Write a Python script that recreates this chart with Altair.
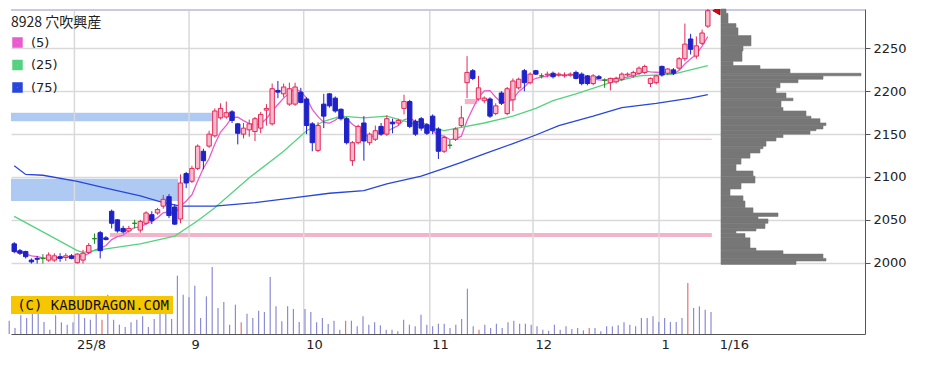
import altair as alt
import pandas as pd

# ---------------- data ----------------
# trading-day index: 0 = 2025-08-01, 110 = 2026-01-16
day_index = list(range(-11, 111))

opens = [2022, 2014, 2013, 2003, 2005, 2005, 2003, 2003, 2007, 2006,
         2008, 2000, 2003, 2012, 2028, 2035, 2029, 2060, 2050, 2040,
         2037, 2046, 2038, 2046, 2056, 2058, 2066, 2077, 2065, 2051,
         2104, 2095, 2110, 2130, 2136, 2148, 2169, 2170, 2176, 2162,
         2150, 2155, 2153, 2157, 2178, 2162, 2201, 2197, 2185, 2185,
         2199, 2191, 2162, 2131, 2185, 2197, 2192, 2179, 2168, 2119,
         2140, 2163, 2140, 2144, 2159, 2150, 2164, 2163, 2180, 2188,
         2165, 2168, 2161, 2171, 2156, 2130, 2137, 2144, 2160, 2210,
         2224, 2191, 2189, 2191, 2174, 2198, 2174, 2190, 2204, 2224,
         2210, 2224, 2218, 2219, 2221, 2219, 2218, 2219, 2222, 2220,
         2218, 2209, 2217, 2213, 2210, 2211, 2214, 2219, 2218, 2221,
         2222, 2209, 2210, 2229, 2221, 2225, 2227, 2238, 2261, 2241,
         2256, 2276]
highs = [2024, 2016, 2014, 2005, 2008, 2010, 2012, 2011, 2011, 2011,
         2010, 2011, 2015, 2023, 2034, 2037, 2031, 2062, 2051, 2043,
         2043, 2050, 2050, 2060, 2060, 2064, 2079, 2080, 2068, 2103,
         2106, 2113, 2138, 2133, 2154, 2180, 2186, 2188, 2178, 2163,
         2163, 2167, 2170, 2176, 2185, 2209, 2212, 2209, 2210, 2210,
         2204, 2193, 2164, 2164, 2197, 2198, 2194, 2180, 2170, 2142,
         2161, 2171, 2152, 2160, 2163, 2172, 2168, 2168, 2196, 2190,
         2167, 2170, 2163, 2173, 2158, 2148, 2143, 2158, 2183, 2241,
         2226, 2218, 2194, 2193, 2186, 2200, 2205, 2215, 2216, 2226,
         2222, 2225, 2221, 2223, 2223, 2222, 2222, 2222, 2224, 2222,
         2219, 2220, 2219, 2215, 2216, 2217, 2222, 2222, 2224, 2229,
         2231, 2216, 2219, 2230, 2227, 2227, 2240, 2279, 2267, 2264,
         2272, 2296]
lows = [2011, 2009, 2005, 1999, 1999, 1999, 2001, 2001, 2001, 2002,
        2004, 1999, 1999, 2010, 2022, 2005, 2026, 2040, 2035, 2034,
        2035, 2040, 2035, 2044, 2045, 2056, 2063, 2052, 2044, 2046,
        2087, 2093, 2108, 2109, 2134, 2146, 2167, 2168, 2163, 2138,
        2145, 2147, 2142, 2151, 2160, 2160, 2192, 2193, 2183, 2183,
        2186, 2150, 2130, 2129, 2157, 2181, 2175, 2166, 2138, 2113,
        2138, 2119, 2137, 2142, 2148, 2148, 2151, 2160, 2173, 2157,
        2148, 2154, 2149, 2150, 2121, 2128, 2133, 2142, 2158, 2192,
        2213, 2189, 2186, 2169, 2172, 2184, 2172, 2177, 2202, 2200,
        2208, 2219, 2215, 2216, 2215, 2217, 2216, 2217, 2214, 2207,
        2207, 2207, 2214, 2204, 2201, 2209, 2212, 2217, 2216, 2219,
        2220, 2205, 2208, 2217, 2219, 2219, 2225, 2235, 2243, 2238,
        2254, 2274]
closes = [2013, 2011, 2007, 2001, 2004, 2005, 2009, 2008, 2005, 2008,
          2005, 2010, 2011, 2020, 2028, 2014, 2027, 2046, 2037, 2036,
          2040, 2046, 2048, 2058, 2049, 2062, 2074, 2055, 2045, 2093,
          2093, 2110, 2136, 2119, 2150, 2177, 2180, 2175, 2166, 2151,
          2157, 2162, 2168, 2173, 2180, 2203, 2199, 2205, 2203, 2205,
          2187, 2160, 2140, 2160, 2171, 2183, 2177, 2168, 2140, 2140,
          2159, 2142, 2150, 2154, 2150, 2168, 2162, 2166, 2188, 2159,
          2150, 2157, 2151, 2154, 2130, 2146, 2137, 2156, 2169, 2222,
          2215, 2204, 2192, 2171, 2183, 2186, 2203, 2212, 2214, 2210,
          2220, 2220, 2218, 2220, 2217, 2220, 2219, 2220, 2215, 2209,
          2209, 2218, 2215, 2213, 2215, 2215, 2220, 2220, 2222, 2227,
          2229, 2215, 2218, 2219, 2226, 2221, 2238, 2255, 2249, 2253,
          2268, 2294]
# volume in hundreds of shares
volumes = [40, 18, 56, 48, 61, 61, 36, 13, 56, 35,
           28, 35, 61, 48, 43, 61, 43, 118, 43, 28,
           21, 35, 43, 53, 21, 45, 61, 61, 45, 175,
           118, 110, 145, 48, 113, 201, 78, 96, 28, 88,
           35, 61, 48, 70, 66, 171, 83, 38, 83, 75,
           36, 75, 66, 35, 48, 30, 40, 13, 40, 40,
           23, 53, 28, 35, 26, 13, 13, 8, 43, 28,
           23, 58, 28, 23, 31, 31, 18, 28, 45, 136,
           23, 13, 28, 18, 31, 18, 35, 40, 31, 31,
           28, 23, 13, 10, 28, 13, 23, 15, 18, 11,
           18, 18, 8, 23, 23, 26, 35, 28, 23, 48,
           48, 53, 36, 48, 36, 36, 48, 153, 78, 83,
           73, 66]
vol_flag_days = [5, 29, 47, 70, 89, 106]

ma25_days = [-11, -6, 0, 1, 5, 11, 17, 21, 24, 30, 36, 40, 43, 46, 50, 54,
             60, 64, 67, 71, 76, 80, 83, 87, 93, 98, 104, 110]
ma25_vals = [2054, 2036, 2014, 2012, 2016, 2022, 2031, 2049, 2064, 2099, 2130,
             2154, 2165, 2171, 2169, 2171, 2160, 2154, 2158, 2163, 2171, 2180,
             2189, 2197, 2210, 2218, 2220, 2230]
ma75_days = [-11, -9, -6, 0, 5, 11, 15, 18, 24, 31, 38, 44, 50, 54, 60, 64,
             67, 71, 76, 80, 84, 90, 95, 101, 107, 110]
ma75_vals = [2113, 2103, 2102, 2095, 2087, 2078, 2070, 2066, 2066, 2070, 2076,
             2081, 2084, 2092, 2101, 2110, 2117, 2127, 2139, 2149, 2160, 2171,
             2181, 2186, 2192, 2196]

# price gaps (windows)
gap_start = [-12, -12, 5.7, 65.5, 67.6]
gap_end = [23.6, 17.6, 110.7, 110.7, 69.8]
gap_low = [2165, 2072, 2030, 2143.5, 2185]
gap_high = [2175, 2098, 2034.5, 2144.5, 2191]
gap_kind = ["down", "down", "up", "up", "up"]

# volume-by-price profile
prof_low = [2291, 2279, 2274, 2265, 2253, 2247, 2235, 2230, 2226, 2221, 2218,
            2214, 2210, 2204, 2198, 2192, 2189, 2181, 2177, 2171, 2168, 2163,
            2160, 2156, 2154, 2150, 2146, 2142, 2136, 2133, 2128, 2122, 2115,
            2107, 2101, 2093, 2086, 2078, 2072, 2064, 2058, 2054, 2051, 2046,
            2040, 2037, 2034, 2029, 2017, 2014, 2010, 2005, 2002, 1998]
prof_high = [2296, 2291, 2279, 2274, 2265, 2253, 2247, 2235, 2230, 2226, 2221,
             2218, 2214, 2210, 2204, 2198, 2192, 2189, 2181, 2177, 2171, 2168,
             2163, 2160, 2156, 2154, 2150, 2146, 2142, 2136, 2133, 2128, 2122,
             2115, 2107, 2101, 2093, 2086, 2078, 2072, 2064, 2058, 2054, 2051,
             2046, 2040, 2037, 2034, 2029, 2017, 2014, 2010, 2005, 2002]
prof_vol = [50, 70, 150, 170, 300, 220, 210, 120, 390, 690, 1400,
            1020, 770, 590, 550, 650, 720, 600, 620, 850, 900, 990,
            1050, 1020, 950, 890, 620, 550, 450, 420, 390, 290, 200,
            150, 320, 340, 200, 90, 220, 240, 320, 570, 370, 470,
            440, 350, 150, 240, 290, 350, 620, 1020, 1050, 750]

month_grid = [-0.5, 19.5, 39.5, 61.5, 79.5, 101.5]
label_pos = [-0.15, 19.85, 39.85, 61.85, 79.85, 101.85, 112.0]
month_labels = ["25/8", "9", "10", "11", "12", "1", "1/16"]
price_ticks = [2000, 2050, 2100, 2150, 2200, 2250]

title_text = "8928 穴吹興産"
ma_names = ["(5)", "(25)", "(75)"]

# ---------------- tables ----------------
df = pd.DataFrame({"i": day_index, "open": opens, "high": highs, "low": lows,
                   "close": closes, "vol": volumes})
df["kind"] = ["up" if c > o else ("down" if c < o else "flat")
              for o, c in zip(opens, closes)]
df["vkind"] = ["flag" if d in vol_flag_days else "normal" for d in day_index]
ma5 = df["close"].rolling(5, min_periods=1).mean()

ma_df = pd.concat([
    pd.DataFrame({"i": day_index, "v": ma5, "s": ma_names[0]}),
    pd.DataFrame({"i": ma25_days, "v": ma25_vals, "s": ma_names[1]}),
    pd.DataFrame({"i": ma75_days, "v": ma75_vals, "s": ma_names[2]}),
])
gap_df = pd.DataFrame({"x1": gap_start, "x2": gap_end, "lo": gap_low,
                       "hi": gap_high, "k": gap_kind})
prof_df = pd.DataFrame({"lo": prof_low, "hi": prof_high, "pv": prof_vol})
grid_df = pd.DataFrame({"pos": month_grid})
one = pd.DataFrame({"a": [0]})

# ---------------- scales / axes ----------------
W, H = 854, 325
X_IDX = alt.Scale(domain=[-10.69, 136.55], nice=False, zero=False)
Y_PRICE = alt.Scale(domain=[1916.8, 2296.0], nice=False, zero=False)
Y_VOL = alt.Scale(domain=[0, 975], nice=False, zero=True)
X_PROF = alt.Scale(domain=[-7100, 1440], nice=False, zero=False)

expr = ""
for p, lab in zip(label_pos[:-1], month_labels[:-1]):
    expr += f"datum.value < {p + 0.3} ? '{lab}' : "
expr += f"'{month_labels[-1]}'"

X_AXIS = alt.Axis(orient="bottom", values=label_pos, labelExpr=expr, title=None,
                  grid=False, ticks=False, domainColor="#555", domainWidth=1,
                  labelAlign="left", labelFont="DejaVu Sans",
                  labelFontSize=13, labelColor="#222", labelPadding=4,
                  labelFlush=False, labelOverlap=False, labelBound=False)
Y_AXIS = alt.Axis(orient="right", values=price_ticks, format="d", title=None,
                  grid=True, gridColor="#d9d9d9", gridWidth=1.5,
                  domainColor="#555", tickColor="#555", tickSize=5,
                  labelFont="DejaVu Sans", labelFontSize=13, labelColor="#222",
                  labelPadding=3)


def X(f):
    return alt.X(f, type="quantitative", scale=X_IDX, axis=X_AXIS)


def Y(f):
    return alt.Y(f, type="quantitative", scale=Y_PRICE, axis=Y_AXIS)


RED, PINK_FILL, BLUE, GREEN = "#e3285a", "#f8bccd", "#1f22c8", "#1d8a1d"
kind_dom = ["up", "down", "flat"]

# ---------------- price panel ----------------
gaps_blue = alt.Chart(gap_df).transform_filter("datum.k == 'down'").mark_rect(
    color="#aecaf3", clip=True).encode(x=X("x1"), x2="x2", y=Y("lo"), y2="hi")
gaps_pink = alt.Chart(gap_df).transform_filter("datum.k == 'up'").mark_rect(
    color="#f3b3c9", clip=True).encode(x=X("x1"), x2="x2", y=Y("lo"), y2="hi")
month_rules = alt.Chart(grid_df).mark_rule(color="#d9d9d9", strokeWidth=1.5).encode(
    x=X("pos"))
top_rule = alt.Chart(one).mark_rule(color="#c9c9e6", strokeWidth=2).encode(
    y=alt.value(1))

ma_lines = alt.Chart(ma_df).mark_line(strokeWidth=1.3, clip=True).encode(
    x=X("i"), y=Y("v"),
    color=alt.Color("s:N", sort=ma_names,
                    scale=alt.Scale(domain=ma_names,
                                    range=["#e85ccd", "#55d27f", "#2846db"]),
                    legend=alt.Legend(title=title_text, orient="none",
                                      legendX=0, legendY=7,
                                      symbolType="square", symbolSize=30,
                                      symbolStrokeWidth=5,
                                      labelFont="DejaVu Sans", labelFontSize=13,
                                      labelColor="#222", labelOffset=7,
                                      titleFont="Noto Sans CJK JP",
                                      titleFontSize=14, titleFontWeight="normal",
                                      titleColor="#222", titlePadding=6,
                                      rowPadding=-4.5, padding=0)))

wicks = alt.Chart(df).mark_rule(strokeWidth=1, clip=True).encode(
    x=X("i"), y=Y("low"), y2="high",
    stroke=alt.Stroke("kind:N", scale=alt.Scale(domain=kind_dom,
                                                range=[RED, BLUE, GREEN]),
                      legend=None))
bodies = alt.Chart(df).mark_bar(size=4.4, strokeWidth=1, clip=True).encode(
    x=X("i"), y=Y("open"), y2="close",
    fill=alt.Fill("kind:N", scale=alt.Scale(domain=kind_dom,
                                            range=[PINK_FILL, BLUE, GREEN]),
                  legend=None),
    stroke=alt.Stroke("kind:N", scale=alt.Scale(domain=kind_dom,
                                                range=[RED, BLUE, GREEN]),
                      legend=None))
last_mark = alt.Chart(df.tail(1)).transform_calculate(tx="datum.i + 1.5").mark_point(
    shape="triangle-left", filled=True, size=70, color="#e00018",
    stroke="#7a0000", strokeWidth=0.8, opacity=1, clip=True).encode(
    x=X("tx"), y=Y("close"))

price = alt.layer(gaps_blue, gaps_pink, month_rules, top_rule, ma_lines,
                  wicks, bodies, last_mark)

# ---------------- volume by price ----------------
profile = alt.Chart(prof_df).mark_rect(color="#777777", stroke="#777777",
                                       strokeWidth=0.6).encode(
    x=alt.X("pv:Q", scale=X_PROF, axis=None), x2=alt.datum(0),
    y=alt.Y("lo:Q", scale=Y_PRICE, axis=None), y2="hi")

# ---------------- volume ----------------
volume = alt.Chart(df).mark_rule(strokeWidth=1.2).encode(
    x=alt.X("i:Q", scale=X_IDX, axis=None),
    y=alt.Y("vol:Q", scale=Y_VOL, axis=None), y2=alt.datum(0),
    stroke=alt.Stroke("vkind:N", scale=alt.Scale(domain=["normal", "flag"],
                                                 range=["#8b8bd6", "#e07575"]),
                      legend=None))

# ---------------- watermark ----------------
wm_box = alt.Chart(one).mark_rect(color="#f6c600").encode(
    x=alt.value(0), x2=alt.value(162), y=alt.value(287), y2=alt.value(305))
wm_text = alt.Chart(one).mark_text(text="(C) KABUDRAGON.COM", font="DejaVu Sans Mono",
                                   fontSize=14, color="#111", align="center",
                                   baseline="middle").encode(
    x=alt.value(82), y=alt.value(296.5))

chart = alt.layer(price, profile, volume, wm_box, wm_text).resolve_scale(
    x="independent", y="independent", stroke="independent", fill="independent"
).properties(width=W, height=H, padding=0, background="white"
).configure_view(stroke=None)

chart.save("out.html", embed_options={"renderer": "svg", "actions": False})
